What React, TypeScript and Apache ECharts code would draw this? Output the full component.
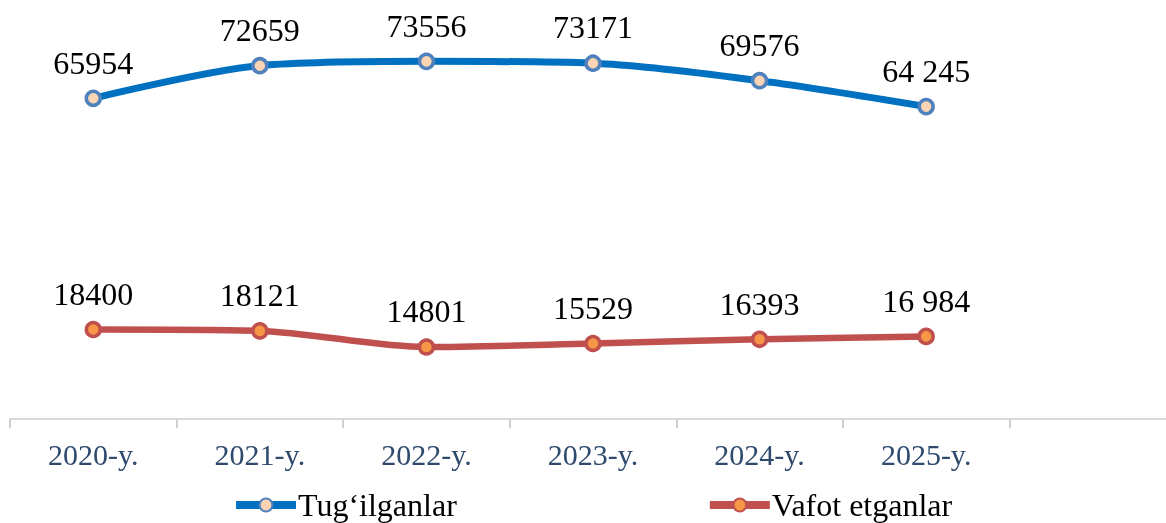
import React, { useEffect, useRef } from "react";
import * as echarts from "echarts";

const categories = ["2020-y.", "2021-y.", "2022-y.", "2023-y.", "2024-y.", "2025-y.", ""];
const births = [65954, 72659, 73556, 73171, 69576, 64245];
const deaths = [18400, 18121, 14801, 15529, 16393, 16984];
const birthLabels = ["65954", "72659", "73556", "73171", "69576", "64 245"];
const deathLabels = ["18400", "18121", "14801", "15529", "16393", "16 984"];

export default function App() {
  const ref = useRef<HTMLDivElement>(null);
  useEffect(() => {
    if (!ref.current) return;
    const chart = echarts.init(ref.current, undefined, { renderer: "svg" });
    const font = "'Liberation Serif', 'Times New Roman', serif";
    chart.setOption({
      animation: false,
      grid: { left: 10, right: 0, top: 30, bottom: 104 },
      legend: {
        left: 232,
        top: 489,
        padding: 0,
        itemWidth: 60,
        itemHeight: 16,
        itemGap: 249,
        textStyle: { fontFamily: font, fontSize: 32, lineHeight: 32, color: "#000", padding: [0, 0, 0, -3] },
        data: [
          { name: "Tug‘ilganlar", lineStyle: { width: 8 } },
          { name: "Vafot etganlar", lineStyle: { width: 8 } },
        ],
      },
      xAxis: {
        type: "category",
        data: categories,
        boundaryGap: true,
        axisLine: { lineStyle: { color: "#D9D9D9", width: 2 } },
        axisTick: { show: true, interval: 0, length: 9, lineStyle: { color: "#D0D0D0", width: 2 } },
        axisLabel: { fontFamily: font, fontSize: 30, color: "#2F4A6D", margin: 20, interval: 0 },
      },
      yAxis: {
        type: "value",
        min: 0,
        max: 80000,
        show: false,
        splitLine: { show: false },
      },
      series: [
        {
          name: "Tug‘ilganlar",
          type: "line",
          data: births,
          smooth: 0.3,
          symbol: "circle",
          symbolSize: 14,
          lineStyle: { color: "#0070C0", width: 7 },
          itemStyle: { color: "#FBD4B4", borderColor: "#4F81BD", borderWidth: 3.5 },
          label: {
            show: true,
            position: "top",
            distance: 11,
            fontFamily: font,
            fontSize: 32,
            color: "#000",
            formatter: (p: any) => birthLabels[p.dataIndex],
          },
        },
        {
          name: "Vafot etganlar",
          type: "line",
          data: deaths,
          smooth: 0.3,
          symbol: "circle",
          symbolSize: 14,
          lineStyle: { color: "#C0504D", width: 6.5 },
          itemStyle: { color: "#F79646", borderColor: "#C0504D", borderWidth: 3.5 },
          label: {
            show: true,
            position: "top",
            distance: 11,
            fontFamily: font,
            fontSize: 32,
            color: "#000",
            formatter: (p: any) => deathLabels[p.dataIndex],
          },
        },
      ],
    });
    return () => chart.dispose();
  }, []);
  return (
    <div style={{ position: "fixed", left: 0, top: 0, width: 1166, height: 523, overflow: "hidden" }}>
      <div ref={ref} style={{ width: 1176, height: 523 }} />
    </div>
  );
}
